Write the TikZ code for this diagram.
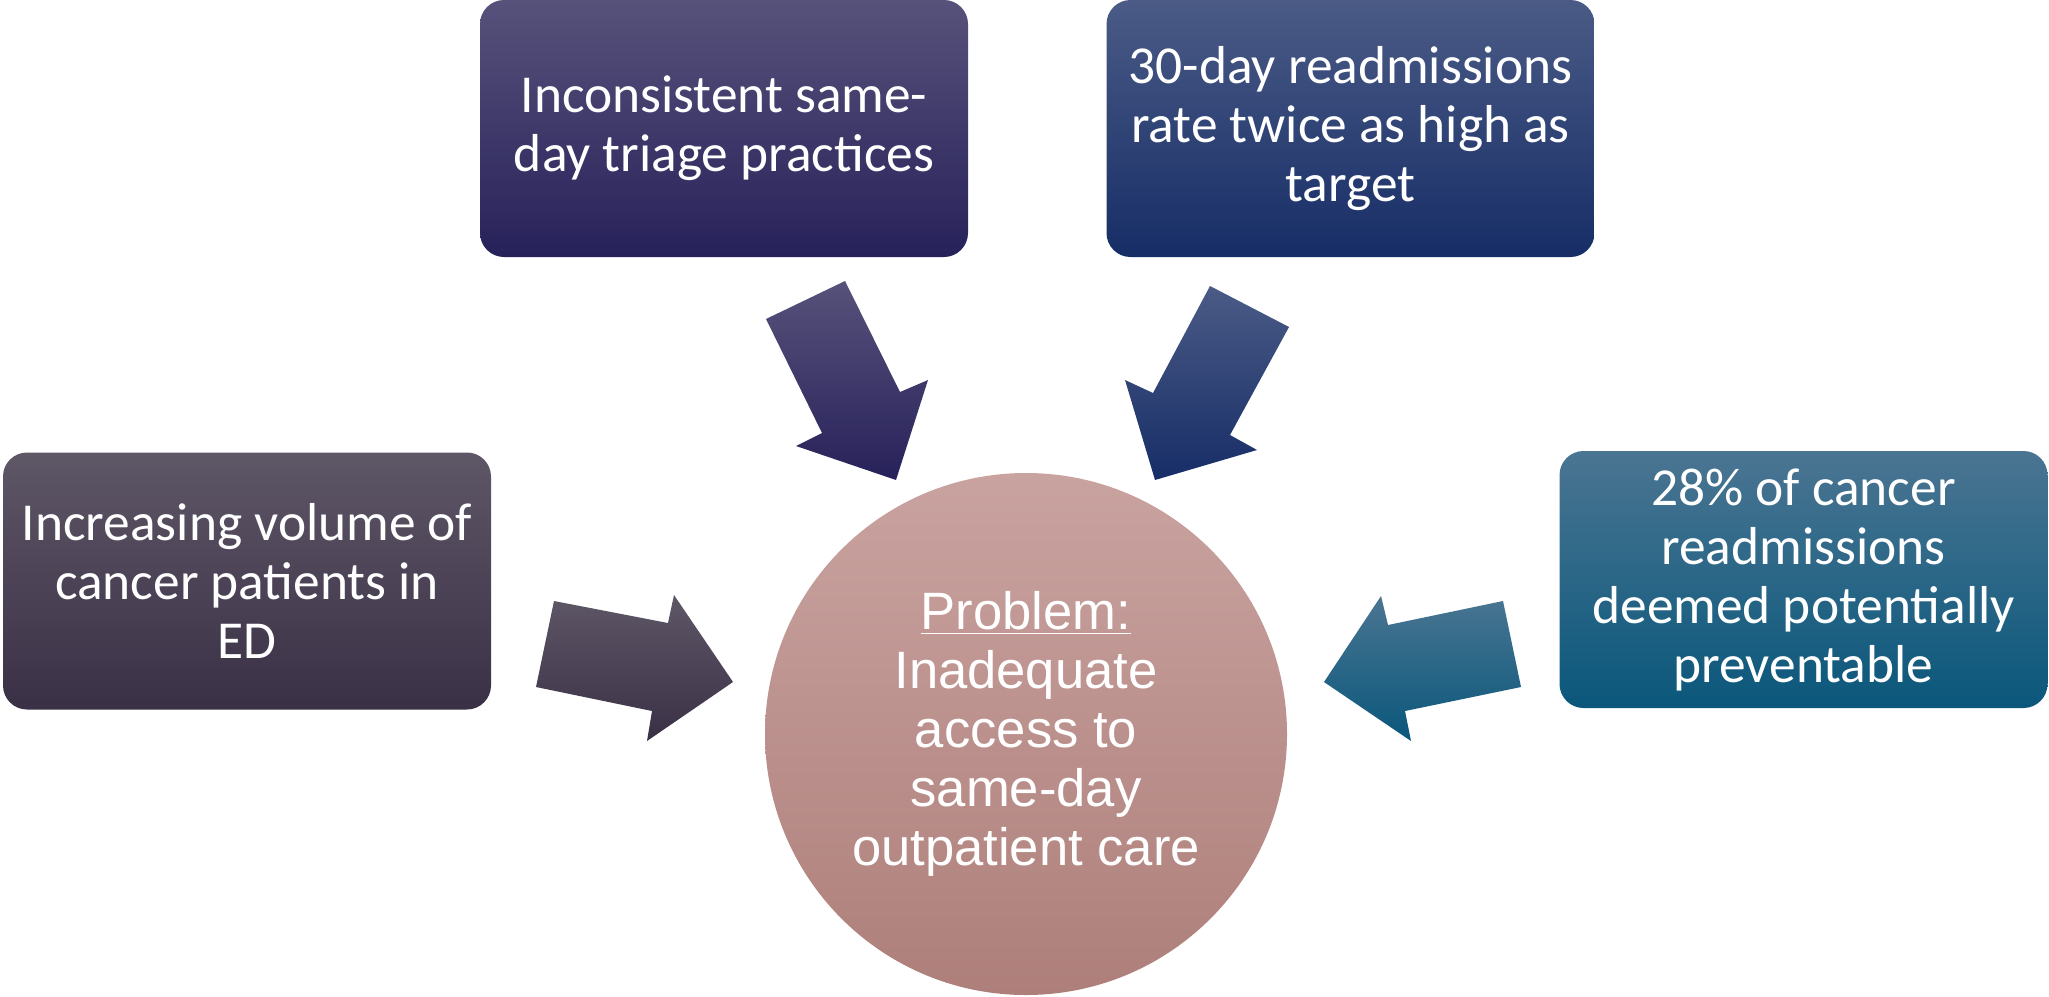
\documentclass[tikz,border=0pt]{standalone}
\usepackage{fontspec}
\setmainfont{Carlito}
\newfontfamily\circfont{Liberation Sans}
\definecolor{lbTop}{HTML}{5E5766}
\definecolor{lbBot}{HTML}{3A3046}
\definecolor{tlTop}{HTML}{57527A}
\definecolor{tlBot}{HTML}{27215A}
\definecolor{trTop}{HTML}{4B5B86}
\definecolor{trBot}{HTML}{162D66}
\definecolor{rbTop}{HTML}{4A7592}
\definecolor{rbBot}{HTML}{0A577B}
\definecolor{ciTop}{HTML}{C9A3A0}
\definecolor{ciBot}{HTML}{AE7F7A}
\begin{document}
\begin{tikzpicture}[x=0.5pt,y=-0.5pt,
  box/.style={rectangle, rounded corners=12pt, draw=none, text=white,
    minimum width=244pt, minimum height=128.5pt, inner sep=0pt, align=center,
    font=\fontsize{26.7}{29.5}\selectfont},
  hub/.style={circle, draw=none, text=white, minimum size=261pt, inner sep=0pt,
    align=center, top color=ciTop, bottom color=ciBot,
    font=\circfont\fontsize{26.3}{29.5}\selectfont},
  blockarrow/.style={draw=none}
]
\useasboundingbox (0,0) rectangle (2049,996);

\node[box, top color=lbTop, bottom color=lbBot] (lb) at (247,581) {Increasing volume of\\cancer patients in\\ED};
\node[box, top color=tlTop, bottom color=tlBot] (tl) at (724,128.5) {Inconsistent same-\\day triage practices};
\node[box, top color=trTop, bottom color=trBot] (tr) at (1350.5,128.5) {30-day readmissions\\rate twice as high as\\target};
\node[box, top color=rbTop, bottom color=rbBot] (rb) at (1803.5,579.5) {28\% of cancer\\readmissions\\deemed potentially\\preventable};
\node[hub] (hub) at (1026,734) {\underline{Problem:}\\Inadequate\\access to\\same-day\\outpatient care};

% block arrows
\path[blockarrow, top color=lbTop, bottom color=lbBot]
  (554,601) -- (668,623) -- (674,595) -- (733,682) -- (647,741) -- (652,711) -- (536,687) -- cycle;
\path[blockarrow, top color=tlTop, bottom color=tlBot]
  (766,319) -- (845,281) -- (900,392) -- (928,380) -- (896,480) -- (796,446) -- (822,433) -- cycle;
\path[blockarrow, top color=trTop, bottom color=trBot]
  (1210,286) -- (1289,327) -- (1230,435) -- (1257,450) -- (1155,480) -- (1125,380) -- (1153,393) -- cycle;
\path[blockarrow, top color=rbTop, bottom color=rbBot]
  (1503,601) -- (1521,687) -- (1405,711) -- (1411,741) -- (1324,682) -- (1381,596) -- (1388,625) -- cycle;
\end{tikzpicture}
\end{document}
